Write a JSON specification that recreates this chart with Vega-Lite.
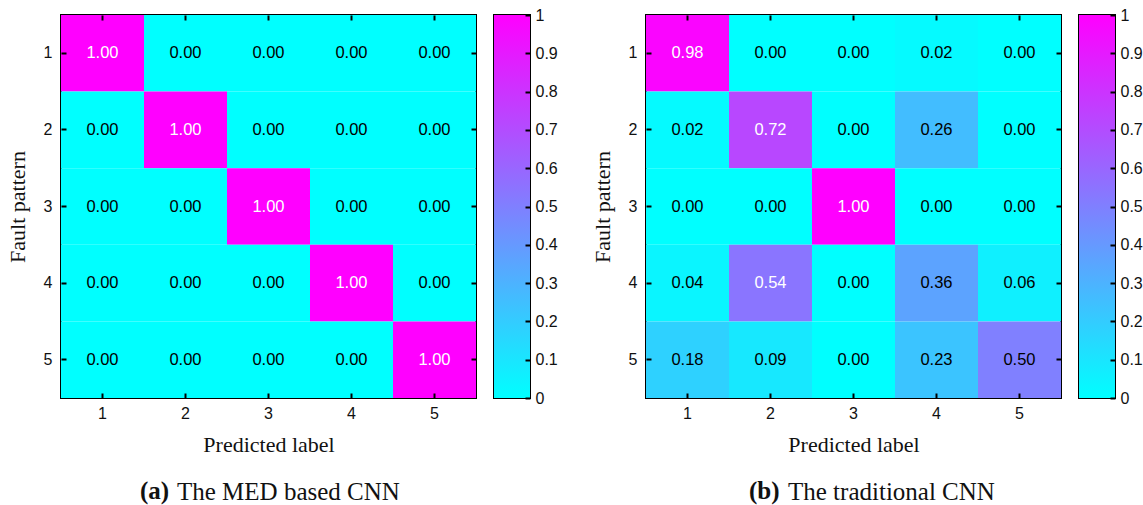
{
  "$schema": "https://vega.github.io/schema/vega-lite/v6.json",
  "background": "white",
  "padding": {"left": 5, "top": 6, "right": 2, "bottom": 5},
  "config": {
    "view": {"stroke": "black", "strokeWidth": 2},
    "font": "Liberation Sans",
    "axis": {
      "labelFont": "Liberation Sans", "labelFontSize": 16, "labelColor": "#111",
      "titleFont": "Liberation Serif", "titleFontSize": 22, "titleFontWeight": "normal", "titleColor": "#111",
      "domain": false, "grid": false, "tickColor": "black", "tickWidth": 2, "tickSize": -5
    },
    "title": {"font": "Liberation Serif", "fontSize": 25, "fontWeight": "normal", "color": "#111"}
  },
  "datasets": {
    "a": [
      {"t": 1, "p": 1, "v": 1.0}, {"t": 1, "p": 2, "v": 0.0}, {"t": 1, "p": 3, "v": 0.0}, {"t": 1, "p": 4, "v": 0.0}, {"t": 1, "p": 5, "v": 0.0},
      {"t": 2, "p": 1, "v": 0.0}, {"t": 2, "p": 2, "v": 1.0}, {"t": 2, "p": 3, "v": 0.0}, {"t": 2, "p": 4, "v": 0.0}, {"t": 2, "p": 5, "v": 0.0},
      {"t": 3, "p": 1, "v": 0.0}, {"t": 3, "p": 2, "v": 0.0}, {"t": 3, "p": 3, "v": 1.0}, {"t": 3, "p": 4, "v": 0.0}, {"t": 3, "p": 5, "v": 0.0},
      {"t": 4, "p": 1, "v": 0.0}, {"t": 4, "p": 2, "v": 0.0}, {"t": 4, "p": 3, "v": 0.0}, {"t": 4, "p": 4, "v": 1.0}, {"t": 4, "p": 5, "v": 0.0},
      {"t": 5, "p": 1, "v": 0.0}, {"t": 5, "p": 2, "v": 0.0}, {"t": 5, "p": 3, "v": 0.0}, {"t": 5, "p": 4, "v": 0.0}, {"t": 5, "p": 5, "v": 1.0}
    ],
    "b": [
      {"t": 1, "p": 1, "v": 0.98}, {"t": 1, "p": 2, "v": 0.0}, {"t": 1, "p": 3, "v": 0.0}, {"t": 1, "p": 4, "v": 0.02}, {"t": 1, "p": 5, "v": 0.0},
      {"t": 2, "p": 1, "v": 0.02}, {"t": 2, "p": 2, "v": 0.72}, {"t": 2, "p": 3, "v": 0.0}, {"t": 2, "p": 4, "v": 0.26}, {"t": 2, "p": 5, "v": 0.0},
      {"t": 3, "p": 1, "v": 0.0}, {"t": 3, "p": 2, "v": 0.0}, {"t": 3, "p": 3, "v": 1.0}, {"t": 3, "p": 4, "v": 0.0}, {"t": 3, "p": 5, "v": 0.0},
      {"t": 4, "p": 1, "v": 0.04}, {"t": 4, "p": 2, "v": 0.54}, {"t": 4, "p": 3, "v": 0.0}, {"t": 4, "p": 4, "v": 0.36}, {"t": 4, "p": 5, "v": 0.06},
      {"t": 5, "p": 1, "v": 0.18}, {"t": 5, "p": 2, "v": 0.09}, {"t": 5, "p": 3, "v": 0.0}, {"t": 5, "p": 4, "v": 0.23}, {"t": 5, "p": 5, "v": 0.5}
    ],
    "bar": [{"lo": 0, "hi": 1}]
  },
  "spacing": 31,
  "hconcat": [
    {
      "spacing": 15,
      "title": {"text": "The MED based CNN", "orient": "bottom", "anchor": "start", "frame": "group", "dx": 116, "offset": -25},
      "hconcat": [
        {
          "data": {"name": "a"},
          "width": 415, "height": 383,
          "title": {"text": "(a)", "orient": "bottom", "anchor": "start", "frame": "group", "dx": 79, "offset": 24, "fontWeight": "bold"},
          "resolve": {"axis": {"x": "independent", "y": "independent"}},
          "layer": [
            {
              "mark": {"type": "rect"},
              "encoding": {
                "x": {"field": "p", "type": "ordinal", "title": "Predicted label", "axis": {"labelAngle": 0, "labelPadding": 12, "titlePadding": 13, "zindex": 1}},
                "y": {"field": "t", "type": "ordinal", "title": "Fault pattern", "axis": {"labelPadding": 14, "titlePadding": 14, "zindex": 1}},
                "color": {"field": "v", "type": "quantitative", "scale": {"domain": [0, 1], "range": ["#00ffff", "#ff00ff"], "interpolate": "rgb"}, "legend": null}
              }
            },
            {
              "mark": {"type": "text", "fontSize": 16.5, "font": "Liberation Sans"},
              "encoding": {
                "x": {"field": "p", "type": "ordinal", "axis": {"orient": "top", "labels": false, "title": null, "zindex": 1}},
                "y": {"field": "t", "type": "ordinal", "axis": {"orient": "right", "labels": false, "title": null, "zindex": 1}},
                "text": {"field": "v", "type": "quantitative", "format": ".2f"},
                "color": {"condition": {"test": "datum.v > 0.52", "value": "white"}, "value": "black"}
              }
            }
          ]
        },
        {
          "data": {"name": "bar"},
          "width": 36, "height": 383,
          "mark": {"type": "rect", "fill": {"gradient": "linear", "x1": 0, "y1": 1, "x2": 0, "y2": 0, "stops": [{"offset": 0, "color": "#00ffff"}, {"offset": 1, "color": "#ff00ff"}]}},
          "encoding": {
            "x": {"datum": 0, "type": "quantitative", "scale": {"domain": [0, 1]}, "axis": null},
            "x2": {"datum": 1},
            "y": {"field": "lo", "type": "quantitative", "scale": {"domain": [0, 1], "nice": false}, "axis": {"orient": "right", "values": [0, 0.1, 0.2, 0.3, 0.4, 0.5, 0.6, 0.7, 0.8, 0.9, 1], "format": "~g", "tickSize": -5, "labelPadding": 10, "title": null, "zindex": 1}},
            "y2": {"field": "hi"}
          }
        }
      ]
    },
    {
      "spacing": 15,
      "title": {"text": "The traditional CNN", "orient": "bottom", "anchor": "start", "frame": "group", "dx": 142, "offset": -25},
      "hconcat": [
        {
          "data": {"name": "b"},
          "width": 415, "height": 383,
          "title": {"text": "(b)", "orient": "bottom", "anchor": "start", "frame": "group", "dx": 103, "offset": 24, "fontWeight": "bold"},
          "resolve": {"axis": {"x": "independent", "y": "independent"}},
          "layer": [
            {
              "mark": {"type": "rect"},
              "encoding": {
                "x": {"field": "p", "type": "ordinal", "title": "Predicted label", "axis": {"labelAngle": 0, "labelPadding": 12, "titlePadding": 13, "zindex": 1}},
                "y": {"field": "t", "type": "ordinal", "title": "Fault pattern", "axis": {"labelPadding": 14, "titlePadding": 14, "zindex": 1}},
                "color": {"field": "v", "type": "quantitative", "scale": {"domain": [0, 1], "range": ["#00ffff", "#ff00ff"], "interpolate": "rgb"}, "legend": null}
              }
            },
            {
              "mark": {"type": "text", "fontSize": 16.5, "font": "Liberation Sans"},
              "encoding": {
                "x": {"field": "p", "type": "ordinal", "axis": {"orient": "top", "labels": false, "title": null, "zindex": 1}},
                "y": {"field": "t", "type": "ordinal", "axis": {"orient": "right", "labels": false, "title": null, "zindex": 1}},
                "text": {"field": "v", "type": "quantitative", "format": ".2f"},
                "color": {"condition": {"test": "datum.v > 0.52", "value": "white"}, "value": "black"}
              }
            }
          ]
        },
        {
          "data": {"name": "bar"},
          "width": 36, "height": 383,
          "mark": {"type": "rect", "fill": {"gradient": "linear", "x1": 0, "y1": 1, "x2": 0, "y2": 0, "stops": [{"offset": 0, "color": "#00ffff"}, {"offset": 1, "color": "#ff00ff"}]}},
          "encoding": {
            "x": {"datum": 0, "type": "quantitative", "scale": {"domain": [0, 1]}, "axis": null},
            "x2": {"datum": 1},
            "y": {"field": "lo", "type": "quantitative", "scale": {"domain": [0, 1], "nice": false}, "axis": {"orient": "right", "values": [0, 0.1, 0.2, 0.3, 0.4, 0.5, 0.6, 0.7, 0.8, 0.9, 1], "format": "~g", "tickSize": -5, "labelPadding": 10, "title": null, "zindex": 1}},
            "y2": {"field": "hi"}
          }
        }
      ]
    }
  ]
}
